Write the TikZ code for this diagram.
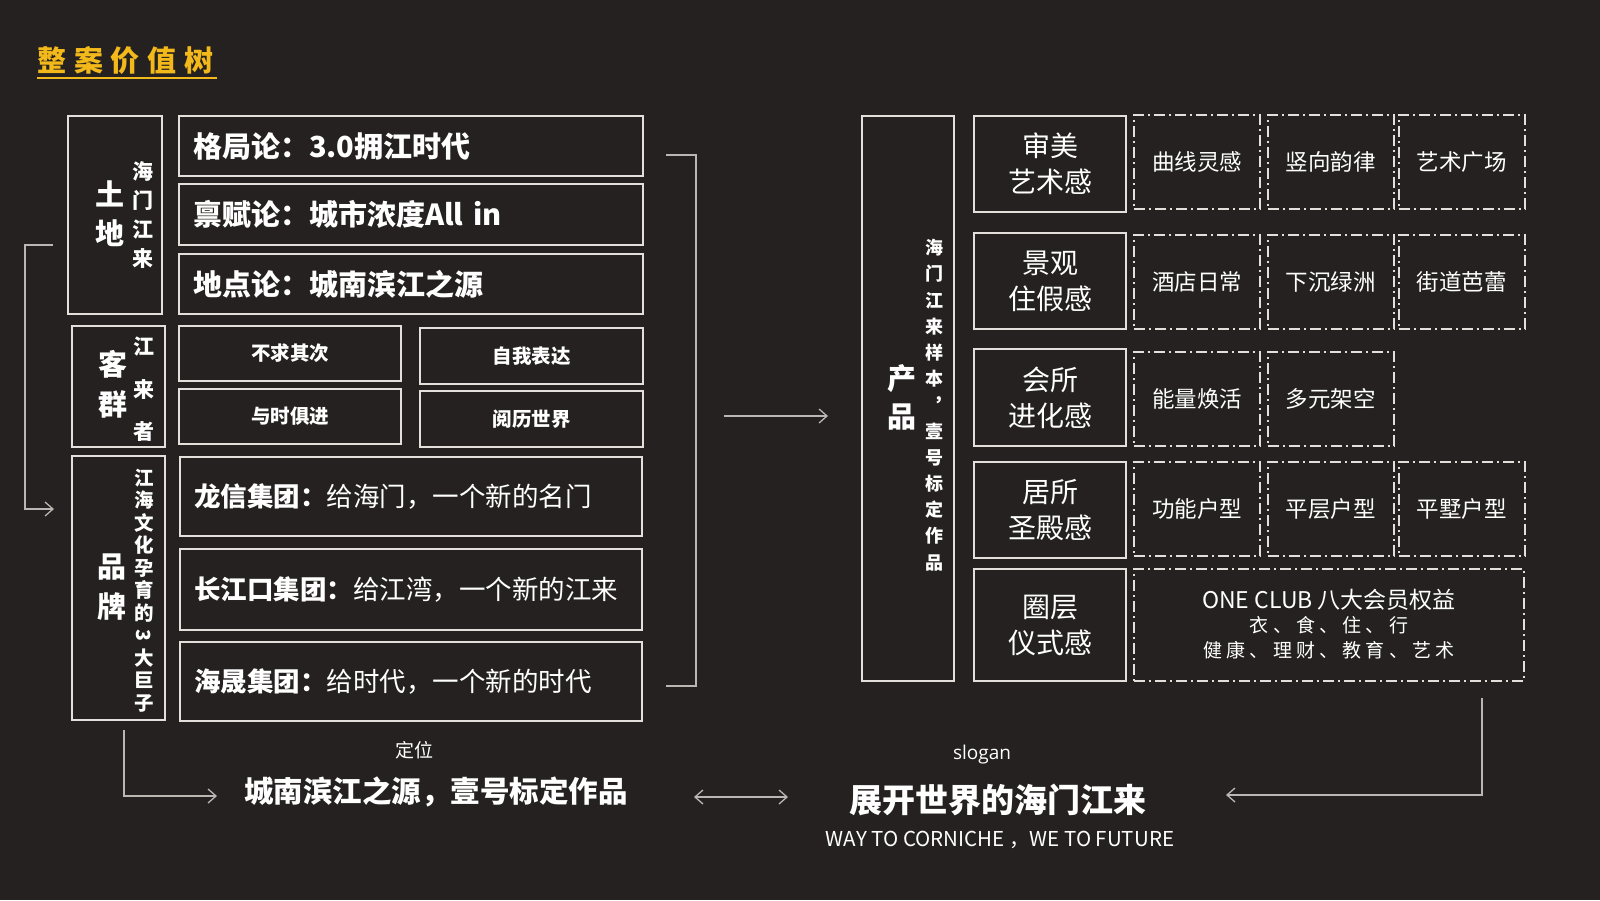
\documentclass[tikz,border=0pt]{standalone}
\usepackage{fontspec}
\setmainfont{Noto Sans CJK SC}
\newfontfamily\spacedfont[LetterSpace=27]{Noto Sans CJK SC}
\newfontfamily\smallspaced[LetterSpace=22]{Noto Sans CJK SC}
\newfontfamily\latinfont{Open Sans}
\usetikzlibrary{arrows.meta, positioning, calc}

\definecolor{bgcol}{HTML}{242120}
\definecolor{linecol}{HTML}{E3E0DC}
\definecolor{arrcol}{HTML}{BAB7B3}
\definecolor{gold}{HTML}{F3B81A}
\newcommand{\fsz}[2]{\fontsize{#1}{#2}\selectfont}

\begin{document}
\begin{tikzpicture}[
    x=1pt, y=-1pt,
    every node/.append style={text=white, inner sep=0pt},
    box/.style={draw=linecol, line width=2pt, align=center},
    widebox/.style={box, inner xsep=14pt, text width=436pt, align=left, font=\bfseries\fsz{29}{34}},
    groupbox/.style={box, inner xsep=14pt, text width=434pt, align=left, font=\fsz{26.5}{31}},
    smallbox/.style={box, minimum width=222pt, minimum height=55pt, font=\bfseries\fsz{19.5}{23}},
    catbox/.style={box, minimum width=152pt, minimum height=96pt, font=\fsz{28}{36}},
    dashbox/.style={draw=linecol, line width=2pt, dash pattern=on 11pt off 4pt on 2pt off 4pt,
        minimum width=126pt, minimum height=94pt, font=\fsz{22.5}{26}},
    bigchar/.style={align=center, font=\bfseries\fsz{29}{39}},
    sidetext/.style={align=center, font=\bfseries\fsz{21}{29}},
    conn/.style={draw=arrcol, line width=1.3pt},
    arrow/.style={conn, -{Straight Barb[length=8pt, width=14pt]}},
    darrow/.style={conn, {Straight Barb[length=8pt, width=14pt]}-{Straight Barb[length=8pt, width=14pt]}}
]

% 背景
\fill[bgcol] (0,0) rectangle (1600,900);

% 标题
\node (title) [text=gold, font=\spacedfont\bfseries\fsz{29}{34}, anchor=west] at (37,60) {整案价值树};
\draw[gold, line width=2.5pt] (37,78) -- (217,78);

% 左侧：土地
\node (tudi) [box, minimum width=94pt, minimum height=198pt] at (115,215) {};
\node (tudiA) [bigchar] at (110,213.5) {土\\地};
\node (tudiB) [sidetext] at (143,214.5) {海\\门\\江\\来};
\node (geju) [widebox, minimum height=60pt] at (411,146) {格局论：3.0拥江时代};
\node (bingfu) [widebox, minimum height=61pt] at (411,214.5) {禀赋论：城市浓度All in};
\node (didian) [widebox, minimum height=60pt] at (411,284) {地点论：城南滨江之源};

% 左侧：客群
\node (kequn) [box, minimum width=93pt, minimum height=121pt] at (118.5,386.5) {};
\node (kequnA) [bigchar, font=\bfseries\fsz{29}{40}] at (113,384) {客\\群};
\node (kequnB) [sidetext, font=\bfseries\fsz{21}{42.5}] at (144,389.5) {江\\来\\者};
\node (buqiu) [smallbox] at (290,353.5) {不求其次};
\node (yushi) [smallbox] at (290,416.5) {与时俱进};
\node (ziwo) [smallbox, minimum width=223pt, minimum height=56pt] at (531.5,356) {自我表达};
\node (yueli) [smallbox, minimum width=223pt, minimum height=56pt] at (531.5,419) {阅历世界};

% 左侧：品牌
\node (pinpai) [box, minimum width=93pt, minimum height=264pt] at (118.5,588) {};
\node (pinpaiA) [bigchar, font=\bfseries\fsz{29}{40}] at (112,587) {品\\牌};
\node (pinpaiB) [sidetext, font=\bfseries\fsz{19.5}{22.5}] at (144,590.5)
    {江\\海\\文\\化\\孕\\育\\的\\\rotatebox[origin=c]{-90}{3}\\大\\巨\\子};
\node (longxin) [groupbox, minimum height=79pt] at (411,496.5) {\textbf{龙信集团：}给海门，一个新的名门};
\node (changjiang) [groupbox, minimum height=81pt] at (411,589.5) {\textbf{长江口集团：}给江湾，一个新的江来};
\node (haisheng) [groupbox, minimum height=79pt] at (411,681.5) {\textbf{海晟集团：}给时代，一个新的时代};

% 右侧：产品
\node (chanpin) [box, minimum width=92pt, minimum height=565pt] at (908,398.5) {};
\node (chanpinA) [bigchar, font=\bfseries\fsz{29}{38}] at (902,397) {产\\品};
\node (chanpinB) [sidetext, font=\bfseries\fsz{18}{26.2}] at (934,405)
    {海\\门\\江\\来\\样\\本\\︐\\壹\\号\\标\\定\\作\\品};

\node (shenmei) [catbox] at (1050,164) {审美\\艺术感};
\node (jingguan) [catbox] at (1050,281) {景观\\住假感};
\node (huisuo) [catbox, minimum height=97pt] at (1050,397.5) {会所\\进化感};
\node (jusuo) [catbox] at (1050,510) {居所\\圣殿感};
\node (quanceng) [catbox, minimum height=112pt] at (1050,625) {圈层\\仪式感};

\node (quxian) [dashbox] at (1197,162) {曲线灵感};
\node (shuxiang) [dashbox] at (1330.5,162) {竖向韵律};
\node (yishu) [dashbox] at (1461.5,162) {艺术广场};
\node (jiudian) [dashbox] at (1197,282) {酒店日常};
\node (xiachen) [dashbox] at (1330.5,282) {下沉绿洲};
\node (jiedao) [dashbox] at (1461.5,282) {街道芭蕾};
\node (nengliang) [dashbox] at (1197,399) {能量焕活};
\node (duoyuan) [dashbox] at (1330.5,399) {多元架空};
\node (gongneng) [dashbox] at (1197,509) {功能户型};
\node (pingceng) [dashbox] at (1330.5,509) {平层户型};
\node (pingshu) [dashbox] at (1461.5,509) {平墅户型};
\node (club) [dashbox, minimum width=390pt, minimum height=112pt] at (1329,625) {};
\node (clubtext) [align=center, font=\fsz{23}{24.5}] at (1329,624)
    {ONE CLUB 八大会员权益\\{\smallspaced\fsz{19}{24.5}衣、食、住、行}\\{\smallspaced\fsz{19}{24.5}健康、理财、教育、艺术}};

% 底部文字
\node (dwlabel) [font=\fsz{19}{22}] at (414,750) {定位};
\node (dingwei) [font=\bfseries\fsz{29.5}{34}] at (436,792) {城南滨江之源，壹号标定作品};
\node (slolabel) [font=\latinfont\fsz{19}{22}] at (982,755) {slogan};
\node (slogan) [font=\bfseries\fsz{33}{38}] at (998,800) {展开世界的海门江来};
\node (sloen) [font=\fsz{20.5}{24}] at (1000,840) {WAY TO CORNICHE ，WE TO FUTURE};

% 连线
\coordinate (brA) at (666,155);
\coordinate (brB) at (666,686);
\coordinate (midA) at (724,416);
\coordinate (midB) at (828,416);
\coordinate (posarr) at (217,796);
\coordinate (dblA) at (694,797);
\coordinate (dblB) at (788,797);
\coordinate (sloarr) at (1226,795);

\draw[conn] (brA) -- ++(30,0) |- (brB);
\draw[arrow] (midA) -- (midB);
\draw[arrow] ($(tudi.west)+(-14,30)$) -- ++(-28,0) |- ($(pinpai.west)+(-17,-79)$);
\draw[arrow] ($(pinpai.south)+(5.5,9)$) |- (posarr);
\draw[darrow] (dblA) -- (dblB);
\draw[arrow] ($(club.south)+(153,16)$) |- (sloarr);

\end{tikzpicture}
\end{document}
